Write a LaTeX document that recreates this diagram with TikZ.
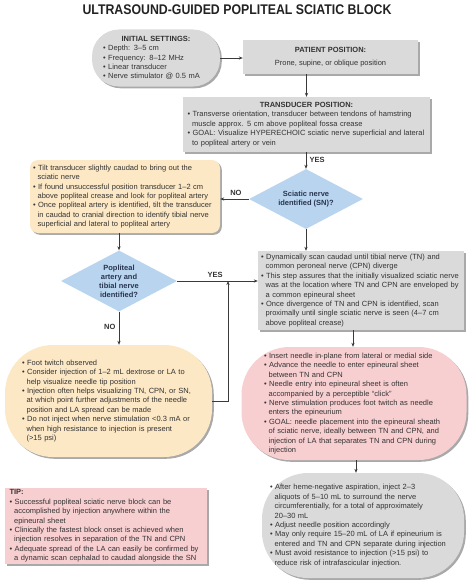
\documentclass[tikz,border=0pt]{standalone}
\usepackage{fontspec}
\setmainfont{Liberation Sans}
\usepackage{graphicx}
\usetikzlibrary{shapes.geometric,shadows,arrows.meta}
\definecolor{PSText}{HTML}{333333}
\definecolor{PSTitle}{HTML}{222222}
\definecolor{PSGrey}{HTML}{DADADA}
\definecolor{PSPeach}{HTML}{FDE8C6}
\definecolor{PSPink}{HTML}{F8CFD1}
\definecolor{PSBlue}{HTML}{B8D4EE}
\definecolor{PSNavy}{HTML}{2A3550}
\definecolor{PSLine}{HTML}{3A3A3A}
\definecolor{PSShadow}{HTML}{8C8C8C}
\newcommand{\bl}{\textbullet\ }
\newcommand{\ct}{\hspace*{4.6pt}}

\begin{document}
\begin{tikzpicture}[x=1pt,y=-1pt,
  every node/.style={text=PSText,font=\fontsize{7.5}{9.4}\selectfont},
  shade box/.style={drop shadow={shadow xshift=1.8pt,shadow yshift=-1.8pt,fill=PSShadow,opacity=0.75}},
  greybox/.style={rectangle,fill=PSGrey,shade box,inner sep=0pt,align=left},
  pill/.style={rectangle,shade box,inner sep=0pt,align=left},
  query/.style={diamond,aspect=1.9,fill=PSBlue,inner sep=0pt,align=center,
    text=PSNavy,font=\fontsize{7.5}{9}\selectfont\bfseries},
  arr/.style={draw=PSLine,line width=0.6pt,-{Stealth[length=4pt,width=3.2pt]}},
  tag/.style={font=\fontsize{7.5}{8}\selectfont\bfseries}]
\path[use as bounding box] (0,0) rectangle (474,586);
% title
\node (title) at (237,10) {\scalebox{0.88}[1]{\fontsize{14}{16}\selectfont\bfseries\color{PSTitle}ULTRASOUND-GUIDED POPLITEAL SCIATIC BLOCK}};
% top row
\node[pill,fill=PSGrey,rounded corners=27pt,minimum width=128,minimum height=57,text width=106] (init) at (156,58)
  {\centerline{\bfseries INITIAL SETTINGS:}\\[0pt]
   \bl Depth: 3--5 cm\\ \bl Frequency: 8--12 MHz\\ \bl Linear transducer\\ \bl Nerve stimulator @ 0.5 mA};
\node[greybox,align=center,minimum width=175,minimum height=34] (patient) at (330.5,57)
  {\bfseries PATIENT POSITION:\\[4pt] Prone, supine, or oblique position};
\node[greybox,minimum width=247,minimum height=55,text width=238] (transducer) at (306.5,124.5)
  {\centerline{\bfseries TRANSDUCER POSITION:}\\[0pt]
   \bl Transverse orientation, transducer between tendons of hamstring\\
   \ct muscle approx. 5 cm above popliteal fossa crease\\
   \bl GOAL: Visualize HYPERECHOIC sciatic nerve superficial and lateral\\
   \ct to popliteal artery or vein};
% decisions
\node[query,minimum width=114,minimum height=60] (sn) at (306,199) {Sciatic nerve\\identified (SN)?};
\node[pill,fill=PSPeach,rounded corners=8pt,minimum width=190,minimum height=73,text width=184] (tilt) at (125,196.5)
  {\bl Tilt transducer slightly caudad to bring out the\\
   \ct sciatic nerve\\
   \bl If found unsuccessful position transducer 1--2 cm\\
   \ct above popliteal crease and look for popliteal artery\\
   \bl Once popliteal artery is identified, tilt the transducer\\
   \ct in caudad to cranial direction to identify tibial nerve\\
   \ct superficial and lateral to popliteal artery};
\node[query,minimum width=116,minimum height=61] (pop) at (119,281) {Popliteal\\artery and\\tibial nerve\\identified?};
\node[greybox,minimum width=206,minimum height=79,text width=200] (scan) at (361,290.5)
  {\bl Dynamically scan caudad until tibial nerve (TN) and\\
   \ct common peroneal nerve (CPN) diverge\\
   \bl This step assures that the initially visualized sciatic nerve\\
   \ct was at the location where TN and CPN are enveloped by\\
   \ct a common epineural sheet\\
   \bl Once divergence of TN and CPN is identified, scan\\
   \ct proximally until single sciatic nerve is seen (4--7 cm\\
   \ct above popliteal crease)};
% lower boxes
\node[pill,fill=PSPeach,rounded corners=48pt,minimum width=207,minimum height=112,text width=173] (twitch) at (108.5,401)
  {\bl Foot twitch observed\\
   \bl Consider injection of 1--2 mL dextrose or LA to\\
   \ct help visualize needle tip position\\
   \bl Injection often helps visualizing TN, CPN, or SN,\\
   \ct at which point further adjustments of the needle\\
   \ct position and LA spread can be made\\
   \bl Do not inject when nerve stimulation <0.3 mA or\\
   \ct when high resistance to injection is present\\
   \ct (>15 psi)};
\node[pill,fill=PSPink,rounded corners=48pt,minimum width=225,minimum height=113,text width=180] (needle) at (354,403.5)
  {\bl Insert needle in-plane from lateral or medial side\\
   \bl Advance the needle to enter epineural sheet\\
   \ct between TN and CPN\\
   \bl Needle entry into epineural sheet is often\\
   \ct accompanied by a perceptible “click”\\
   \bl Nerve stimulation produces foot twitch as needle\\
   \ct enters the epineurium\\
   \bl GOAL: needle placement into the epineural sheath\\
   \ct of sciatic nerve, ideally between TN and CPN, and\\
   \ct injection of LA that separates TN and CPN during\\
   \ct injection};
\node[pill,fill=PSGrey,rounded corners=46pt,minimum width=202,minimum height=105,text width=186] (inject) at (363,525.5)
  {\bl After heme-negative aspiration, inject 2--3\\
   \ct aliquots of 5--10 mL to surround the nerve\\
   \ct circumferentially, for a total of approximately\\
   \ct 20--30 mL\\
   \bl Adjust needle position accordingly\\
   \bl May only require 15--20 mL of LA if epineurium is\\
   \ct entered and TN and CPN separate during injection\\
   \bl Must avoid resistance to injection (>15 psi) to\\
   \ct reduce risk of intrafascicular injection.};
\node[greybox,fill=PSPink,minimum width=202,minimum height=76,text width=193] (tip) at (106,526)
  {{\bfseries TIP:}\\
   \bl Successful popliteal sciatic nerve block can be\\
   \ct accomplished by injection anywhere within the\\
   \ct epineural sheet\\
   \bl Clinically the fastest block onset is achieved when\\
   \ct injection resolves in separation of the TN and CPN\\
   \bl Adequate spread of the LA can easily be confirmed by\\
   \ct a dynamic scan cephalad to caudad alongside the SN};
% connectors
\coordinate (meet) at (228,281);
\draw[arr] (init.east) -- (init.east -| patient.west);
\draw[arr] (transducer.north |- patient.south) -- (transducer.north);
\draw[arr] (transducer.south -| sn.north) -- node[tag,right,pos=0.45] {YES} (sn.north);
\draw[arr] (sn.west) -- node[tag,above,pos=0.45] {NO} (sn.west -| tilt.east);
\draw[arr] (pop.north |- tilt.south) -- (pop.north);
\draw[arr] (pop.east) -- node[tag,above,pos=0.47] {YES} (pop.east -| scan.west);
\draw[arr] (pop.south) -- node[tag,left,pos=0.45] {NO} (pop.south |- twitch.north);
\draw[arr] (twitch.east) -| (meet);
\draw[arr] (sn.south) -- (sn.south |- scan.north);
\draw[arr] (scan.south -| 353,0) -- (needle.north -| 353,0);
\draw[arr] (needle.south -| 356,0) -- (inject.north -| 356,0);
\end{tikzpicture}
\end{document}
